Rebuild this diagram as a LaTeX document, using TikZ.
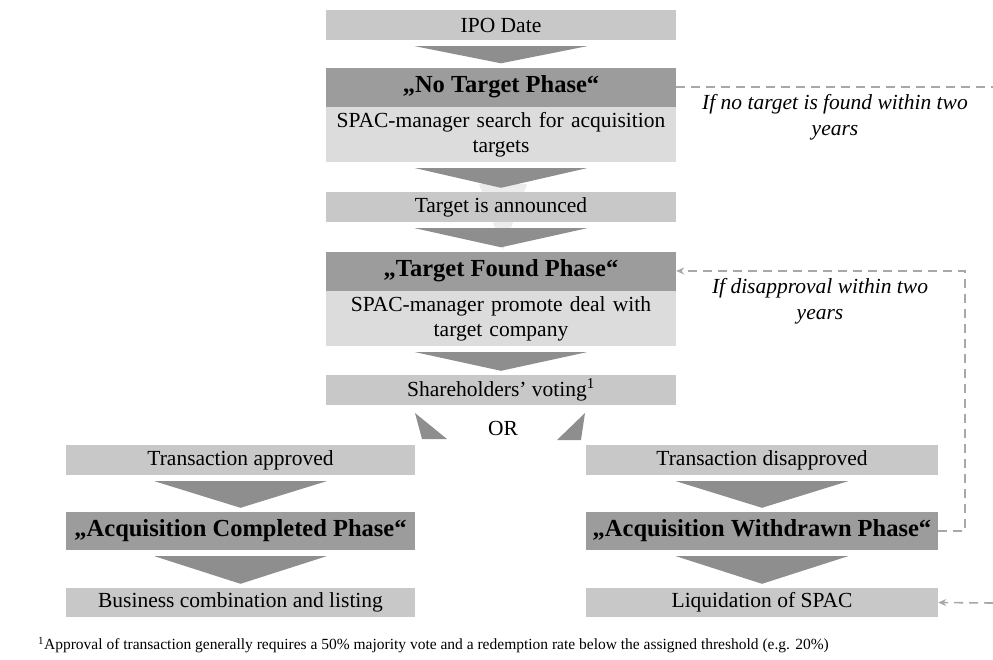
\documentclass[tikz,border=0pt]{standalone}
\usepackage{fontspec}
\setmainfont{Liberation Serif}
\usetikzlibrary{arrows.meta, positioning, calc}

\definecolor{boxgray}{HTML}{C8C8C8}
\definecolor{phasegray}{HTML}{9C9C9C}
\definecolor{descgray}{HTML}{DCDCDC}
\definecolor{chevgray}{HTML}{8E8E8E}
\definecolor{fadegray}{HTML}{ECECEC}
\definecolor{dashgray}{HTML}{A8A8A8}

% chevron between two stacked boxes
\newcommand{\downchev}[2]{%
  \fill[chevgray] ($(#1.south)+(-86,6)$) -- ($(#1.south)+(86,6)$) -- ($(#2.north)+(0,-4)$) -- cycle;}

\begin{document}
\begin{tikzpicture}[
    x=1pt, y=-1pt,
    stepbox/.style={rectangle, fill=boxgray, text centered, minimum width=350pt, minimum height=30pt, inner sep=0pt, font=\fontsize{21.5}{25}\selectfont},
    phasebox/.style={rectangle, fill=phasegray, text centered, minimum width=350pt, minimum height=39pt, inner sep=0pt, font=\fontsize{24.5}{28}\selectfont\bfseries},
    descbox/.style={rectangle, fill=descgray, align=center, text width=348pt, minimum height=55pt, inner sep=1pt, font=\fontsize{21.5}{25}\selectfont},
    note/.style={align=center, font=\fontsize{21.5}{26}\selectfont\itshape},
    dashline/.style={dashgray, line width=1.6pt, dash pattern=on 9pt off 6pt},
    arrow/.style={dashline, -{Stealth[length=8pt, width=7pt]}}
]
\useasboundingbox (0,0) rectangle (993,659);

% faint arrow behind the centre column
\fill[fadegray] (479,184) -- (527,184) -- (503,250) -- cycle;

% Centre column
\node (ipo) [stepbox] at (501,25) {IPO Date};
\node (nophase) [phasebox] at (501,87) {„No Target Phase“};
\node (nodesc) [descbox, below=0pt of nophase] {SPAC-manager search for acquisition\\targets};
\node (announced) [stepbox] at (501,207) {Target is announced};
\node (foundphase) [phasebox] at (501,271) {„Target Found Phase“};
\node (founddesc) [descbox, below=0pt of foundphase] {SPAC-manager promote deal with\\target company};
\node (voting) [stepbox] at (501,390) {Shareholders’ voting\textsuperscript{1}};
\node (or) [font=\fontsize{21.5}{25}\selectfont] at (503,428) {OR};

% Left column
\node (approved) [stepbox, minimum width=349pt] at (240.5,460) {Transaction approved};
\node (completed) [phasebox, minimum width=349pt, minimum height=38pt] at (240.5,531) {„Acquisition Completed Phase“};
\node (business) [stepbox, minimum width=349pt, minimum height=29pt] at (240.5,602.5) {Business combination and listing};

% Right column
\node (disapproved) [stepbox, minimum width=352pt] at (762,460) {Transaction disapproved};
\node (withdrawn) [phasebox, minimum width=352pt, minimum height=38pt] at (762,531) {„Acquisition Withdrawn Phase“};
\node (liquidation) [stepbox, minimum width=352pt, minimum height=29pt] at (762,602.5) {Liquidation of SPAC};

% Chevrons
\downchev{ipo}{nophase}
\downchev{nodesc}{announced}
\downchev{announced}{foundphase}
\downchev{founddesc}{voting}
\downchev{approved}{completed}
\downchev{completed}{business}
\downchev{disapproved}{withdrawn}
\downchev{withdrawn}{liquidation}

% OR wedges
\fill[chevgray] (415,413) -- (447,439) -- (422,439) -- cycle;
\fill[chevgray] (585,413) -- (581,440) -- (557,440) -- cycle;

% Dashed connectors
\coordinate (exitnt) at (993,87);
\coordinate (entliq) at (993,603);
\draw[dashline] (nophase.east) -- (exitnt);
\draw[arrow] (withdrawn.east) -- ++(27,0) |- (foundphase.east);
\draw[arrow] (entliq) -- (liquidation.east);

% Notes
\node (nonote) [note] at (835,117) {If no target is found within two\\years};
\node (disnote) [note] at (820,301) {If disapproval within two\\years};

% Footnote
\node (foot) [anchor=west, inner sep=0pt, font=\fontsize{15.5}{17}\selectfont] at (38,645) {\textsuperscript{1}Approval of transaction generally requires a 50\% majority vote and a redemption rate below the assigned threshold (e.g. 20\%)};
\end{tikzpicture}
\end{document}
